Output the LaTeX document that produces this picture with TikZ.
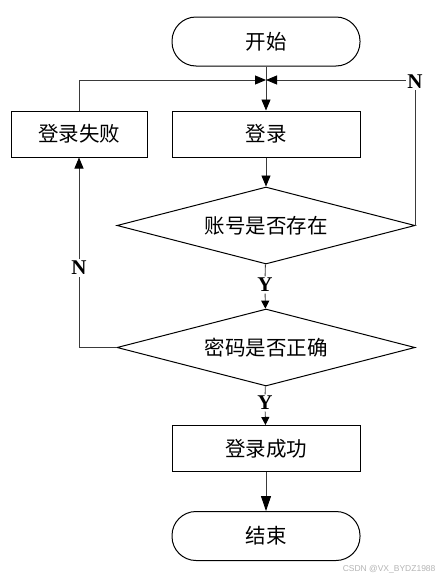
\documentclass[tikz,border=0pt]{standalone}
\usepackage{fontspec}
\setmainfont{Liberation Serif}
\newfontfamily\cjk{Noto Sans CJK SC}
\newfontfamily\marksans{Liberation Sans}
\definecolor{FlowLine}{HTML}{3A3A3A}
\definecolor{MarkGray}{HTML}{B4B4B4}
\usetikzlibrary{arrows.meta,shapes.geometric}

\tikzset{
  terminal/.style={draw,line width=1pt,rounded corners=24pt,minimum width=188pt,minimum height=49pt,font=\cjk\fontsize{20.5}{23}\selectfont},
  process/.style={draw,line width=1pt,minimum width=188pt,minimum height=46pt,font=\cjk\fontsize{20.5}{23}\selectfont},
  decision/.style={draw,line width=1pt,diamond,aspect=3.87,inner sep=0pt,minimum width=298pt,minimum height=77pt,font=\cjk\fontsize{20.5}{23}\selectfont},
  yesno/.style={inner sep=1.5pt,font=\bfseries\fontsize{21}{23}\selectfont},
  flow/.style={draw=FlowLine,line width=0.9pt},
}

\begin{document}
\begin{tikzpicture}[x=1pt,y=-1pt,>={Triangle[length=11pt,width=9pt,color=black]}]
  \useasboundingbox (0,0) rectangle (443,581);

  \node[terminal] (start) at (266,41.5) {开始};
  \node[process] (login) at (266,134) {登录};
  \node[process,minimum width=136pt] (fail) at (79,134) {登录失败};
  \node[decision] (chkacc) at (266,225.5) {账号是否存在};
  \node[decision] (chkpwd) at (266,347.5) {密码是否正确};
  \node[process] (done) at (266,448.5) {登录成功};
  \node[terminal] (stop) at (266,536) {结束};
  \coordinate (join) at (266,80);

  \node[yesno] (nright) at (415,82) {N};
  \node[yesno] (nleft) at (79,268) {N};
  \node[yesno] (yacc) at (265,285) {Y};
  \node[yesno] (ypwd) at (265,403) {Y};

  % main path
  \draw[flow,->] (start) -- (login);
  \draw[flow,->] (login) -- (chkacc);
  \draw[flow] (chkacc) -- (yacc);
  \draw[flow,->,>={Triangle[length=8pt,width=8pt,color=black]}] (yacc) -- (chkpwd);
  \draw[flow] (chkpwd) -- (ypwd);
  \draw[flow,->,>={Triangle[length=8pt,width=8pt,color=black]}] (ypwd) -- (done);
  \draw[flow,->,>={Triangle[length=15pt,width=10pt,color=black]}] (done) -- (stop);

  % back loops
  \draw[flow] (chkacc.east) |- (nright.south);
  \draw[flow,->] (nright.west |- join) -- (join);
  \draw[flow] (chkpwd.west) -| (nleft.south);
  \draw[flow,->] (nleft.north) -- (fail.south);
  \draw[flow,->] (fail.north) |- (join);

  \node[anchor=east,text=MarkGray,font=\marksans\fontsize{8.5}{10}\selectfont] (mark) at (439,569) {CSDN @VX\_BYDZ1988};
\end{tikzpicture}
\end{document}
